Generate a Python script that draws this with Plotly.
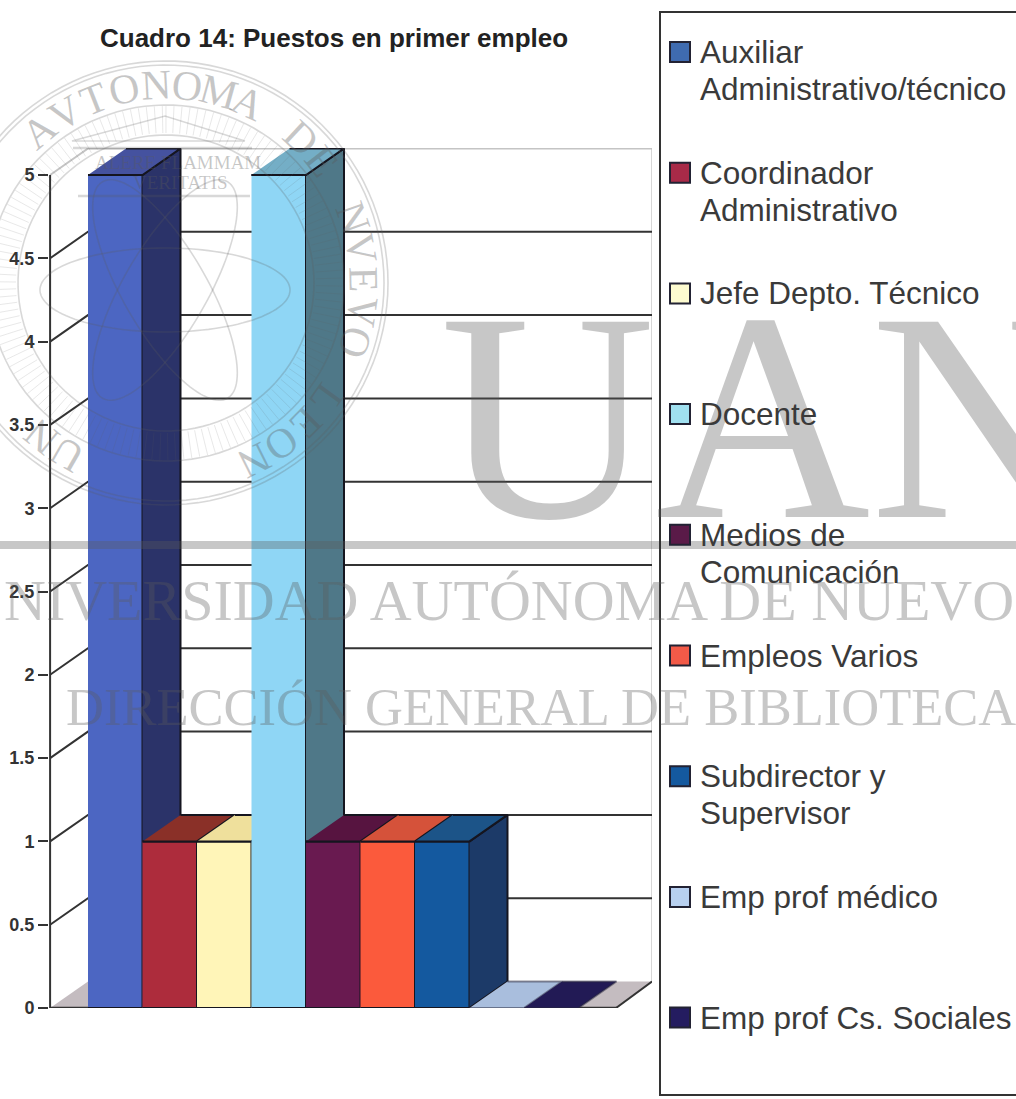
import math
import numpy as np
import plotly.graph_objects as go

# ---- data ----
categories = ["Auxiliar Administrativo/técnico", "Coordinador Administrativo", "Jefe Depto. Técnico",
              "Docente", "Medios de Comunicación", "Empleos Varios", "Subdirector y Supervisor",
              "Emp prof médico", "Emp prof Cs. Sociales"]
legend_lines = [["Auxiliar", "Administrativo/técnico"], ["Coordinador", "Administrativo"],
                ["Jefe Depto. Técnico"], ["Docente"], ["Medios de", "Comunicación"], ["Empleos Varios"],
                ["Subdirector y", "Supervisor"], ["Emp prof médico"], ["Emp prof Cs. Sociales"]]
values = [5, 1, 1, 5, 1, 1, 1, 0, 0]
tick_vals = [0, 0.5, 1, 1.5, 2, 2.5, 3, 3.5, 4, 4.5, 5]
tick_text = ["0", "0.5", "1", "1.5", "2", "2.5", "3", "3.5", "4", "4.5", "5"]
front_colors = ["#4c66c2", "#ad2c3c", "#fff5b8", "#8fd6f5", "#691a50", "#fb5a3c", "#14599f", "#aac6ea", "#241c60"]
top_colors = ["#45529f", "#8a3028", "#efe09c", "#74aec6", "#571440", "#d5523a", "#1c5488", "#a9bedd", "#221a55"]
side_colors = ["#2b3369", "#5c2028", "#a89c70", "#4f7888", "#3c0f30", "#8c3020", "#1c3a68", "#6c80a0", "#14103c"]
legend_colors = ["#3f6bb0", "#a82a48", "#fdfbd0", "#a0e0f0", "#5a1a48", "#f25a48", "#14599f", "#b8d0f0", "#241c60"]

# ---- layout geometry (pixels) ----
FIG_W, FIG_H = 1016, 1099
L, R, T, B = 49, 652, 148, 1008
PITCH, UNIT = 54.5, 166.6
X0 = 88
DX, DY = 38 / PITCH, 26.5 / UNIT
x_range = [(L - X0) / PITCH, (R - X0) / PITCH]
y_range = [0, (B - T) / UNIT]
AXIS_X = x_range[0] + 0.02
END_X = (616 - X0) / PITCH


def xp(px):
    return (px - L) / (R - L)


def yp(py):
    return 1 - (py - T) / (B - T)


fig = go.Figure()


def poly(xs, ys, fill, line="#15151f", width=2, name=None):
    fig.add_trace(go.Scatter(x=xs, y=ys, mode="lines", fill="toself", fillcolor=fill, name=name,
                             line=dict(color=line, width=width), showlegend=False, hoverinfo="skip"))


def seg(xs, ys, color, width=2):
    fig.add_trace(go.Scatter(x=xs, y=ys, mode="lines", line=dict(color=color, width=width),
                             showlegend=False, hoverinfo="skip"))


# floor
poly([AXIS_X, 0, x_range[1], END_X], [0, DY, DY, 0], "#c4bcc0", line="rgba(0,0,0,0)", width=0)
# back wall edges and gridlines
seg([0, x_range[1], x_range[1], END_X], [max(tick_vals) + DY, max(tick_vals) + DY, DY, 0], "#bdbdbd", 1.2)
seg([x_range[1], END_X], [DY, 0], "#333333", 2)
for v in tick_vals:
    col = "#c4c4c4" if v == 5 else "#333333"
    if v > 0:
        seg([AXIS_X, 0, x_range[1]], [v, v + DY, v + DY], col, 2)
# axes
seg([AXIS_X, AXIS_X], [0, max(tick_vals)], "#333333", 2)
seg([AXIS_X, END_X, END_X], [0, 0, -0.06], "#333333", 2.5)

# bars: front, top and side of each one
for i, v in enumerate(values):
    a, b = i, i + 1
    if v > 0:
        poly([a, b, b, a], [0, 0, v, v], front_colors[i], name=categories[i])
        poly([b, b + DX, b + DX, b], [0, DY, v + DY, v], side_colors[i])
    poly([a, b, b + DX, a + DX], [v, v, v + DY, v + DY], top_colors[i],
         line="#15151f" if v > 0 else "rgba(40,40,60,0.5)", name=categories[i] if v == 0 else None)

# ---- scanned watermark ----
WM = "rgba(90,90,90,0.34)"
WM_LINE = "rgba(90,90,90,0.24)"
shapes, annotations = [], []


def wm_path(path, width=1.6, color=WM_LINE):
    shapes.append(dict(type="path", xref="paper", yref="paper", path=path,
                       line=dict(color=color, width=width), layer="above"))


def wm_text(px, py, text, size, angle=0, anchor="center", color=WM, family="Liberation Serif"):
    annotations.append(dict(x=xp(px), y=yp(py), xref="paper", yref="paper", text=text, showarrow=False,
                            textangle=angle, xanchor=anchor, yanchor="middle",
                            font=dict(family=family, size=size, color=color)))


def ring(cx, cy, rx, ry=None, rot=0.0, n=120):
    ry = rx if ry is None else ry
    t = np.linspace(0, 2 * math.pi, n)
    c, s = math.cos(rot), math.sin(rot)
    xs = cx + rx * np.cos(t) * c - ry * np.sin(t) * s
    ys = cy + rx * np.cos(t) * s + ry * np.sin(t) * c
    return "M" + "L".join(f"{xp(x):.4f},{yp(y):.4f}" for x, y in zip(xs, ys)) + "Z"


CX, CY = 166, 283
for r in (222, 218, 178, 148):
    wm_path(ring(CX, CY, r))
hatch = []
for deg in np.arange(0, 360, 2.6):
    t = math.radians(deg)
    hatch.append(f"M{xp(CX + 150 * math.sin(t)):.4f},{yp(CY - 150 * math.cos(t)):.4f}"
                 f"L{xp(CX + 177 * math.sin(t)):.4f},{yp(CY - 177 * math.cos(t)):.4f}")
wm_path("".join(hatch), 0.8, "rgba(90,90,90,0.18)")
for rot in (0.0, math.pi / 3, -math.pi / 3):
    wm_path(ring(165, 290, 125, 42, rot))
wm_path(f"M{xp(72):.4f},{yp(141):.4f}L{xp(165):.4f},{yp(116):.4f}L{xp(245):.4f},{yp(141):.4f}Z", 1.4)
wm_path(f"M{xp(73):.4f},{yp(148):.4f}L{xp(252):.4f},{yp(148):.4f}", 2.5)
wm_path(f"M{xp(78):.4f},{yp(196):.4f}L{xp(250):.4f},{yp(196):.4f}", 2.5)
wm_text(178, 162, "ALERE FLAMMAM", 19)
wm_text(180, 183, "VERITATIS", 19)

seal_letters = list("UNIVERSIDAD") + [" "] + list("AVTONOMA") + [" "] + list("DE") + [" "] + list("NVEVO") + [" "] + list("LEON")
anchor_index = seal_letters.index("N", 14)
for k, ch in enumerate(seal_letters):
    theta = -3 + (k - anchor_index) * 9.2
    t = math.radians(theta)
    lx, ly = CX + 198 * math.sin(t), CY - 198 * math.cos(t)
    if ch == " " or lx < 22:
        continue
    wm_text(lx, ly, ch, 42, angle=theta)

wm_text(438, 416, "UAN", 298, anchor="left")
wm_text(2, 600, "NIVERSIDAD AUTÓNOMA DE NUEVO", 58, anchor="left")
wm_text(64, 707, "DIRECCIÓN GENERAL DE BIBLIOTECA", 52.5, anchor="left")
shapes.append(dict(type="rect", xref="paper", yref="paper", x0=xp(0), x1=xp(FIG_W), y0=yp(549), y1=yp(541),
                   fillcolor=WM, line=dict(width=0), layer="above"))

# legend frame, running past the right edge
shapes.append(dict(type="rect", xref="paper", yref="paper", x0=xp(660), x1=xp(FIG_W + 10), y0=yp(1095), y1=yp(12),
                   line=dict(color="#333333", width=2), layer="above"))

# legend entries drawn at a constant pitch: swatch beside the first line of each label
LEG_Y0, LEG_PITCH, LINE_H = 52, 120.7, 37
for i, lines in enumerate(legend_lines):
    cy = LEG_Y0 + i * LEG_PITCH
    shapes.append(dict(type="rect", xref="paper", yref="paper", x0=xp(670), x1=xp(690), y0=yp(cy + 10), y1=yp(cy - 10),
                       fillcolor=legend_colors[i], line=dict(color="#222233", width=2), layer="above"))
    for j, txt in enumerate(lines):
        annotations.append(dict(x=xp(698), y=yp(cy + j * LINE_H), xref="paper", yref="paper", text=txt,
                                showarrow=False, xanchor="left", yanchor="middle",
                                font=dict(family="Liberation Sans", size=31.5, color="#3a3a3a")))

# title
annotations.append(dict(x=xp(334), y=yp(38), xref="paper", yref="paper", showarrow=False, xanchor="center",
                        yanchor="middle", text="<b>Cuadro 14: Puestos en primer empleo</b>",
                        font=dict(family="Liberation Sans", size=26, color="#222222")))

fig.update_layout(
    width=FIG_W, height=FIG_H, margin=dict(l=L, r=FIG_W - R, t=T, b=FIG_H - B, autoexpand=False),
    paper_bgcolor="white", plot_bgcolor="white", shapes=shapes, annotations=annotations,
    xaxis=dict(range=x_range, visible=False, fixedrange=True),
    yaxis=dict(range=y_range, tickvals=tick_vals, ticktext=[f"<b>{t}</b>" for t in tick_text], ticks="outside",
               ticklen=10, tickwidth=2, tickcolor="#333333", showgrid=False, zeroline=False, showline=False,
               fixedrange=True, tickfont=dict(family="Liberation Sans", size=18, color="#333333")),
    showlegend=False,
)
for s in fig.data:
    s.cliponaxis = False

fig.write_html("out.html", post_script="document.body.style.margin='0';", config={"displayModeBar": False})
